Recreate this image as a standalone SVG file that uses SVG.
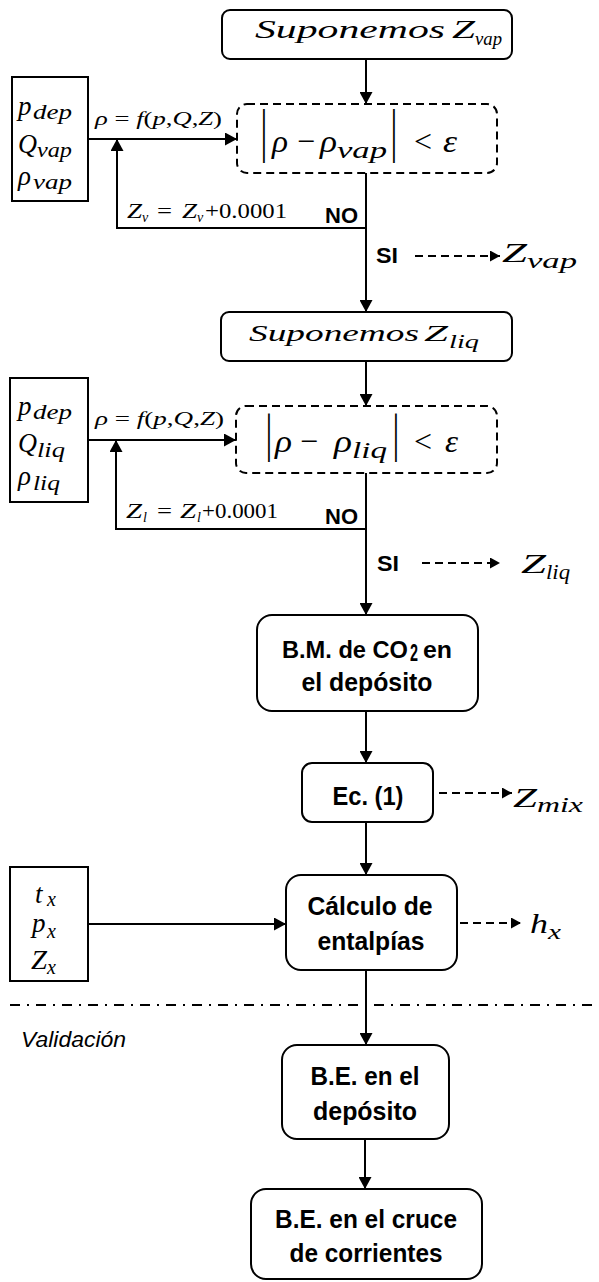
<svg xmlns="http://www.w3.org/2000/svg" width="599" height="1282" viewBox="0 0 599 1282">
<style>
.box{fill:#fff;stroke:#000;stroke-width:2}
.dbox{fill:#fff;stroke:#000;stroke-width:2;stroke-dasharray:8 5}
.ln{fill:none;stroke:#000;stroke-width:2}
.dl{fill:none;stroke:#000;stroke-width:2;stroke-dasharray:8 5}
.dd{fill:none;stroke:#000;stroke-width:2;stroke-dasharray:10 7 2 7}
.m{font-family:"Liberation Serif","Times New Roman",serif;font-style:italic;fill:#000}
.u{font-family:"Liberation Serif","Times New Roman",serif;font-style:normal;fill:#000}
.b{font-family:"Liberation Sans Narrow","Arial Narrow","Liberation Sans",Arial,sans-serif;font-weight:bold;font-size:26px;text-anchor:middle;fill:#000}
.bs{font-family:"Liberation Sans Narrow","Arial Narrow","Liberation Sans",Arial,sans-serif;font-weight:bold;font-size:24px;fill:#000}
.lb{font-family:"Liberation Sans Narrow","Arial Narrow","Liberation Sans",Arial,sans-serif;font-weight:bold;font-size:22px;fill:#000}
.it{font-family:"Liberation Sans",Arial,sans-serif;font-style:italic;font-size:22px;fill:#000}
</style>
<defs>
<marker id="ah" markerUnits="userSpaceOnUse" markerWidth="13" markerHeight="13" refX="12" refY="6.5" orient="auto"><path d="M0,0 L12,6.5 L0,13 z" fill="#000"/></marker>
<marker id="ahs" markerUnits="userSpaceOnUse" markerWidth="11" markerHeight="11" refX="10" refY="5.5" orient="auto"><path d="M0,0 L10,5.5 L0,11 z" fill="#000"/></marker>
</defs>

<g id="connectors">
<path class="ln" d="M366,59 V104" marker-end="url(#ah)"/>
<path class="ln" d="M366,173 V312" marker-end="url(#ah)"/>
<path class="ln" d="M366,228 H117 V139" marker-end="url(#ah)"/>
<path class="ln" d="M88,139 H237" marker-end="url(#ah)"/>
<path class="dl" d="M415,256 H500" marker-end="url(#ahs)"/>
<path class="ln" d="M366,361 V406" marker-end="url(#ah)"/>
<path class="ln" d="M366,473 V615" marker-end="url(#ah)"/>
<path class="ln" d="M366,529 H116 V440" marker-end="url(#ah)"/>
<path class="ln" d="M88,440 H236" marker-end="url(#ah)"/>
<path class="dl" d="M422,563 H500" marker-end="url(#ahs)"/>
<path class="ln" d="M366,711 V763" marker-end="url(#ah)"/>
<path class="dl" d="M439,793 H512" marker-end="url(#ahs)"/>
<path class="ln" d="M366,822 V875" marker-end="url(#ah)"/>
<path class="ln" d="M88,924 H286" marker-end="url(#ah)"/>
<path class="dl" d="M460,923 H521" marker-end="url(#ahs)"/>
<path class="ln" d="M366,970 V1045" marker-end="url(#ah)"/>
<path class="ln" d="M365,1139 V1189" marker-end="url(#ah)"/>
</g>

<g id="labels">
<text class="m" x="95" y="125" font-size="18" textLength="127" lengthAdjust="spacingAndGlyphs">ρ <tspan class="u">=</tspan> f<tspan class="u">(</tspan>p<tspan class="u">,</tspan>Q<tspan class="u">,</tspan>Z<tspan class="u">)</tspan></text>
<text class="m" x="127" y="218" font-size="20" textLength="15" lengthAdjust="spacingAndGlyphs">Z</text>
<text class="m" x="142" y="222" font-size="14">v</text>
<text class="u" x="157" y="218" font-size="20" textLength="15" lengthAdjust="spacingAndGlyphs">=</text>
<text class="m" x="182" y="218" font-size="20" textLength="15" lengthAdjust="spacingAndGlyphs">Z</text>
<text class="m" x="197" y="222" font-size="14">v</text>
<text class="u" x="205" y="218" font-size="20" textLength="82" lengthAdjust="spacingAndGlyphs">+0.0001</text>
<text class="lb" x="325" y="223" textLength="33" lengthAdjust="spacingAndGlyphs">NO</text>
<text class="lb" x="376" y="263" textLength="22" lengthAdjust="spacingAndGlyphs">SI</text>

<text class="m" x="95" y="425" font-size="18" textLength="129" lengthAdjust="spacingAndGlyphs">ρ <tspan class="u">=</tspan> f<tspan class="u">(</tspan>p<tspan class="u">,</tspan>Q<tspan class="u">,</tspan>Z<tspan class="u">)</tspan></text>
<text class="m" x="126" y="518" font-size="20" textLength="16" lengthAdjust="spacingAndGlyphs">Z</text>
<text class="m" x="143" y="522" font-size="14">l</text>
<text class="u" x="157" y="518" font-size="20" textLength="15" lengthAdjust="spacingAndGlyphs">=</text>
<text class="m" x="180" y="518" font-size="20" textLength="16" lengthAdjust="spacingAndGlyphs">Z</text>
<text class="m" x="197" y="522" font-size="14">l</text>
<text class="u" x="202" y="518" font-size="20" textLength="76" lengthAdjust="spacingAndGlyphs">+0.0001</text>
<text class="lb" x="325" y="524" textLength="33" lengthAdjust="spacingAndGlyphs">NO</text>
<text class="lb" x="377" y="571" textLength="22" lengthAdjust="spacingAndGlyphs">SI</text>

<text class="it" x="21" y="1047" textLength="105" lengthAdjust="spacingAndGlyphs">Validación</text>
<path class="dd" d="M10,1005 H599"/>
</g>

<g id="out-zvap">
<text class="m" x="502" y="262" font-size="27" textLength="25" lengthAdjust="spacingAndGlyphs">Z</text>
<text class="m" x="527" y="268" font-size="21" textLength="50" lengthAdjust="spacingAndGlyphs">vap</text>
</g>
<g id="out-zliq">
<text class="m" x="521" y="573" font-size="27" textLength="25" lengthAdjust="spacingAndGlyphs">Z</text>
<text class="m" x="546" y="579" font-size="21" textLength="24" lengthAdjust="spacingAndGlyphs">liq</text>
</g>
<g id="out-zmix">
<text class="m" x="513" y="807" font-size="27" textLength="24" lengthAdjust="spacingAndGlyphs">Z</text>
<text class="m" x="537" y="812" font-size="21" textLength="46" lengthAdjust="spacingAndGlyphs">mix</text>
</g>
<g id="out-hx">
<text class="m" x="530" y="933" font-size="27" textLength="18" lengthAdjust="spacingAndGlyphs">h</text>
<text class="m" x="548" y="939" font-size="21" textLength="13" lengthAdjust="spacingAndGlyphs">x</text>
</g>

<g id="sup-zvap">
<rect class="box" x="222" y="10" width="290" height="49" rx="8"/>
<text class="m" x="255" y="38" font-size="25" textLength="190" lengthAdjust="spacingAndGlyphs">Suponemos</text>
<text class="m" x="452" y="38" font-size="25" textLength="23" lengthAdjust="spacingAndGlyphs">Z</text>
<text class="m" x="475" y="45" font-size="18" textLength="27" lengthAdjust="spacingAndGlyphs">vap</text>
</g>

<g id="in-vap">
<rect class="box" x="12" y="77" width="76" height="124" fill="#fff"/>
<text class="m" x="18" y="115" font-size="27">p</text>
<text class="m" x="33" y="119" font-size="20" textLength="39" lengthAdjust="spacingAndGlyphs">dep</text>
<text class="m" x="18" y="153" font-size="28" textLength="19" lengthAdjust="spacingAndGlyphs">Q</text>
<text class="m" x="37" y="157" font-size="20" textLength="35" lengthAdjust="spacingAndGlyphs">vap</text>
<text class="m" x="18" y="185" font-size="27">ρ</text>
<text class="m" x="33" y="189" font-size="20" textLength="39" lengthAdjust="spacingAndGlyphs">vap</text>
</g>

<g id="dec-vap">
<rect class="dbox" x="237" y="104" width="260" height="69" rx="10"/>
<text class="u" font-size="34" text-anchor="middle" transform="translate(264,150) scale(1,1.75)">|</text>
<text class="m" x="272" y="152" font-size="32" textLength="16" lengthAdjust="spacingAndGlyphs">ρ</text>
<text class="u" x="306" y="152" font-size="32" text-anchor="middle">−</text>
<text class="m" x="320" y="152" font-size="32" textLength="17" lengthAdjust="spacingAndGlyphs">ρ</text>
<text class="m" x="337" y="158" font-size="24" textLength="50" lengthAdjust="spacingAndGlyphs">vap</text>
<text class="u" font-size="34" text-anchor="middle" transform="translate(394,150) scale(1,1.75)">|</text>
<text class="u" x="423" y="152" font-size="32" text-anchor="middle">&lt;</text>
<text class="m" x="443" y="152" font-size="32" textLength="14" lengthAdjust="spacingAndGlyphs">ε</text>
</g>

<g id="sup-zliq">
<rect class="box" x="221" y="312" width="291" height="49" rx="8"/>
<text class="m" x="249" y="341" font-size="24" textLength="170" lengthAdjust="spacingAndGlyphs">Suponemos</text>
<text class="m" x="424" y="341" font-size="24" textLength="24" lengthAdjust="spacingAndGlyphs">Z</text>
<text class="m" x="449" y="348" font-size="18" textLength="30" lengthAdjust="spacingAndGlyphs">liq</text>
</g>

<g id="in-liq">
<rect class="box" x="10" y="378" width="78" height="124"/>
<text class="m" x="18" y="415" font-size="27">p</text>
<text class="m" x="33" y="419" font-size="20" textLength="39" lengthAdjust="spacingAndGlyphs">dep</text>
<text class="m" x="18" y="452" font-size="28" textLength="19" lengthAdjust="spacingAndGlyphs">Q</text>
<text class="m" x="37" y="457" font-size="20" textLength="28" lengthAdjust="spacingAndGlyphs">liq</text>
<text class="m" x="18" y="485" font-size="27">ρ</text>
<text class="m" x="33" y="490" font-size="20" textLength="27" lengthAdjust="spacingAndGlyphs">liq</text>
</g>

<g id="dec-liq">
<rect class="dbox" x="236" y="406" width="261" height="67" rx="10"/>
<text class="u" font-size="34" text-anchor="middle" transform="translate(269,451) scale(1,1.58)">|</text>
<text class="m" x="275" y="452" font-size="32" textLength="17" lengthAdjust="spacingAndGlyphs">ρ</text>
<text class="u" x="309" y="452" font-size="32" text-anchor="middle">−</text>
<text class="m" x="334" y="452" font-size="32" textLength="18" lengthAdjust="spacingAndGlyphs">ρ</text>
<text class="m" x="352" y="458" font-size="24" textLength="35" lengthAdjust="spacingAndGlyphs">liq</text>
<text class="u" font-size="34" text-anchor="middle" transform="translate(396,451) scale(1,1.58)">|</text>
<text class="u" x="423" y="452" font-size="32" text-anchor="middle">&lt;</text>
<text class="m" x="445" y="452" font-size="32" textLength="13" lengthAdjust="spacingAndGlyphs">ε</text>
</g>

<g id="bm">
<rect class="box" x="257" y="615" width="221" height="96" rx="15"/>
<text class="bs" x="282" y="658" textLength="126" lengthAdjust="spacingAndGlyphs">B.M. de CO</text>
<text class="bs" x="410" y="661" font-size="15" textLength="8" lengthAdjust="spacingAndGlyphs">2</text>
<text class="bs" x="423" y="658" textLength="29" lengthAdjust="spacingAndGlyphs">en</text>
<text class="b" x="367" y="691" textLength="131" lengthAdjust="spacingAndGlyphs">el depósito</text>
</g>

<g id="ec1">
<rect class="box" x="302" y="763" width="131" height="59" rx="10"/>
<text class="b" x="368" y="805" textLength="71" lengthAdjust="spacingAndGlyphs">Ec. (1)</text>
</g>

<g id="in-x">
<rect class="box" x="10" y="867" width="78" height="114"/>
<text class="m" x="35" y="903" font-size="27">t</text>
<text class="m" x="47" y="906" font-size="20">x</text>
<text class="m" x="32" y="932" font-size="27">p</text>
<text class="m" x="47" y="938" font-size="20">x</text>
<text class="m" x="31" y="969" font-size="27" textLength="16" lengthAdjust="spacingAndGlyphs">Z</text>
<text class="m" x="47" y="974" font-size="20">x</text>
</g>

<g id="calc">
<rect class="box" x="286" y="875" width="171" height="95" rx="15"/>
<text class="b" x="370" y="915" textLength="125" lengthAdjust="spacingAndGlyphs">Cálculo de</text>
<text class="b" x="371" y="950" textLength="107" lengthAdjust="spacingAndGlyphs">entalpías</text>
</g>

<g id="be-dep">
<rect class="box" x="282" y="1045" width="167" height="94" rx="15"/>
<text class="b" x="365" y="1085" textLength="109" lengthAdjust="spacingAndGlyphs">B.E. en el</text>
<text class="b" x="365" y="1120" textLength="104" lengthAdjust="spacingAndGlyphs">depósito</text>
</g>

<g id="be-cruce">
<rect class="box" x="251" y="1189" width="231" height="90" rx="15"/>
<text class="b" x="366" y="1228" textLength="182" lengthAdjust="spacingAndGlyphs">B.E. en el cruce</text>
<text class="b" x="366" y="1262" textLength="153" lengthAdjust="spacingAndGlyphs">de corrientes</text>
</g>
</svg>
